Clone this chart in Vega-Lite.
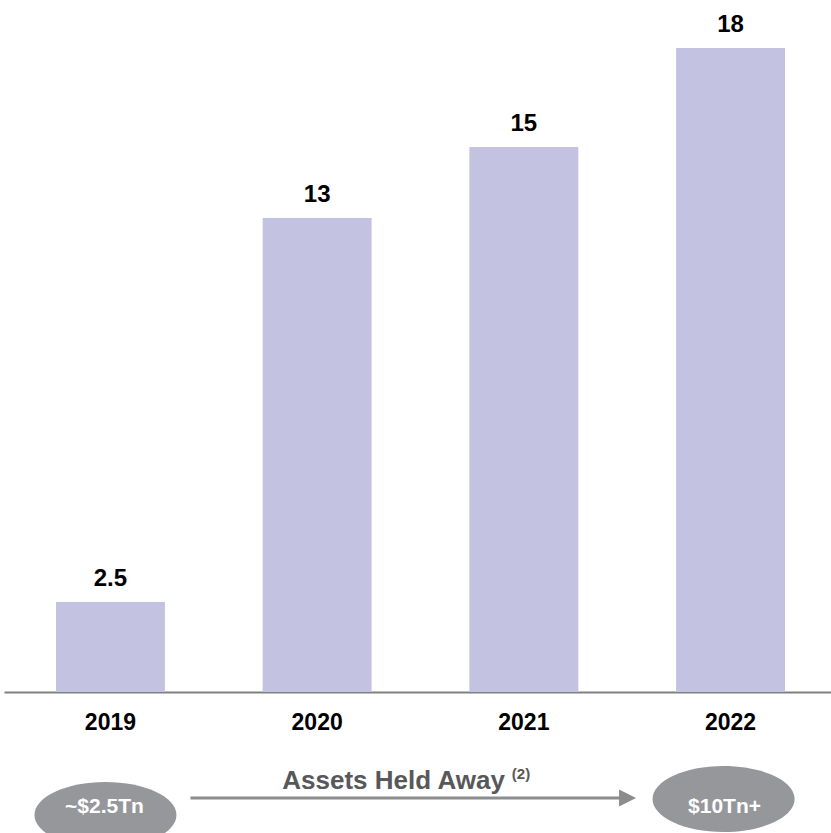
{
  "$schema": "https://vega.github.io/schema/vega-lite/v6.json",
  "padding": {"left": 4, "top": 12, "right": 0, "bottom": 0},
  "background": "white",
  "bounds": "flush",
  "spacing": 60,
  "config": {
    "view": {"stroke": null},
    "font": "Liberation Sans",
    "text": {"font": "Liberation Sans"}
  },
  "datasets": {
    "bars": [
      {"year": "2019", "value": 2.5, "label": "2.5"},
      {"year": "2020", "value": 13.17, "label": "13"},
      {"year": "2021", "value": 15.14, "label": "15"},
      {"year": "2022", "value": 17.89, "label": "18"}
    ],
    "assets": [
      {"year": "2019", "label": "~$2.5Tn"},
      {"year": "2022", "label": "$10Tn+"}
    ]
  },
  "vconcat": [
    {
      "width": 833,
      "height": 648,
      "data": {"name": "bars"},
      "encoding": {
        "x": {
          "field": "year",
          "type": "ordinal",
          "sort": ["2019", "2020", "2021", "2022"],
          "scale": {"domain": ["2019", "2020", "2021", "2022"], "paddingInner": 0.473, "paddingOuter": 0.2515},
          "axis": {
            "title": null,
            "orient": "bottom",
            "ticks": false,
            "domain": true,
            "domainColor": "#808080",
            "domainWidth": 2,
            "labelFontSize": 23,
            "labelFontWeight": "bold",
            "labelColor": "#000000",
            "labelFont": "Liberation Sans",
            "labelPadding": 19,
            "labelAngle": 0,
            "grid": false
          }
        },
        "y": {
          "field": "value",
          "type": "quantitative",
          "scale": {"domain": [0, 18], "nice": false, "zero": true},
          "axis": null
        }
      },
      "layer": [
        {"mark": {"type": "bar", "color": "#c3c3e1"}},
        {
          "mark": {"type": "text", "baseline": "alphabetic", "dy": -16, "fontSize": 24, "fontWeight": "bold", "color": "#000000", "font": "Liberation Sans"},
          "encoding": {"text": {"field": "label"}}
        }
      ]
    },
    {
      "width": 833,
      "height": 112,
      "data": {"name": "assets"},
      "encoding": {
        "x": {
          "field": "year",
          "type": "ordinal",
          "sort": ["2019", "2020", "2021", "2022"],
          "scale": {"domain": ["2019", "2020", "2021", "2022"], "paddingInner": 0.473, "paddingOuter": 0.2515},
          "axis": null
        }
      },
      "layer": [
        {
          "transform": [{"filter": "datum.year === '2019'"}],
          "mark": {
            "type": "point",
            "shape": "M -1 0 C -1 -0.257 -0.552 -0.465 0 -0.465 C 0.552 -0.465 1 -0.257 1 0 C 1 0.257 0.552 0.465 0 0.465 C -0.552 0.465 -1 0.257 -1 0 Z",
            "size": 20164,
            "filled": true,
            "opacity": 1,
            "color": "#96979b",
            "xOffset": -5,
            "yOffset": 7
          }
        },
        {
          "transform": [{"filter": "datum.year === '2022'"}],
          "mark": {
            "type": "point",
            "shape": "M -1 0 C -1 -0.257 -0.552 -0.465 0 -0.465 C 0.552 -0.465 1 -0.257 1 0 C 1 0.257 0.552 0.465 0 0.465 C -0.552 0.465 -1 0.257 -1 0 Z",
            "size": 20164,
            "filled": true,
            "opacity": 1,
            "color": "#96979b",
            "xOffset": -7,
            "yOffset": -9
          }
        },
        {
          "mark": {
            "type": "text",
            "fontSize": 21,
            "fontWeight": "bold",
            "color": "#ffffff",
            "baseline": "middle",
            "font": "Liberation Sans",
            "xOffset": -6,
            "yOffset": -1
          },
          "encoding": {"text": {"field": "label"}}
        },
        {
          "transform": [{"filter": "datum.year === '2019'"}],
          "mark": {"type": "rule", "color": "#8c8c8c", "strokeWidth": 3, "xOffset": 80, "x2Offset": -108, "yOffset": -10},
          "encoding": {"x2": {"datum": "2022"}}
        },
        {
          "transform": [{"filter": "datum.year === '2022'"}],
          "mark": {
            "type": "point",
            "shape": "M -1 -1 L 1 0 L -1 1 Z",
            "size": 289,
            "filled": true,
            "opacity": 1,
            "color": "#8c8c8c",
            "xOffset": -103,
            "yOffset": -10
          }
        },
        {
          "transform": [{"filter": "datum.year === '2022'"}],
          "mark": {
            "type": "text",
            "text": "Assets Held Away",
            "align": "right",
            "baseline": "alphabetic",
            "fontSize": 26,
            "fontWeight": "bold",
            "font": "Liberation Sans",
            "color": "#58585a",
            "dx": -19,
            "dy": -19
          },
          "encoding": {"x": {"datum": "2021"}}
        },
        {
          "transform": [{"filter": "datum.year === '2022'"}],
          "mark": {
            "type": "text",
            "text": "(2)",
            "align": "left",
            "baseline": "alphabetic",
            "fontSize": 15,
            "fontWeight": "bold",
            "font": "Liberation Sans",
            "color": "#58585a",
            "dx": -12,
            "dy": -29
          },
          "encoding": {"x": {"datum": "2021"}}
        }
      ]
    }
  ]
}
